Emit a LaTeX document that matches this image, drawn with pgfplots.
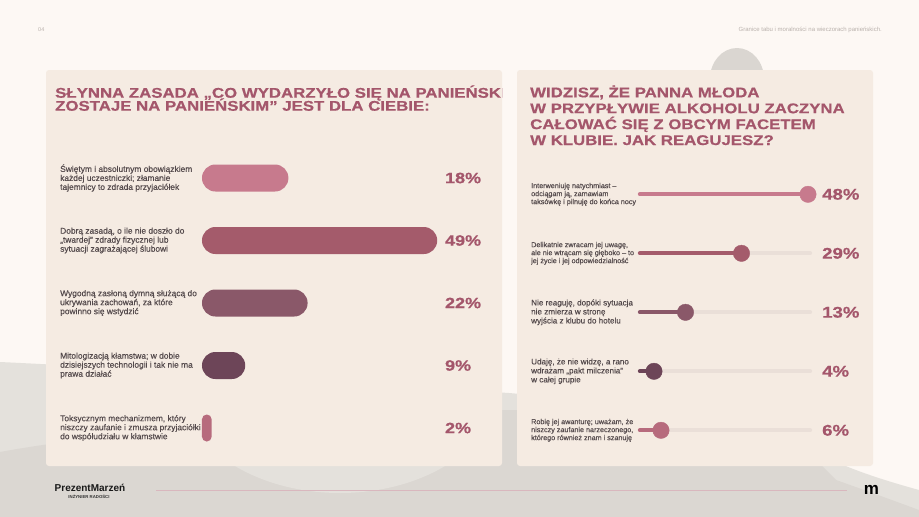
\documentclass[border=0pt]{standalone}
\usepackage{pgfplots}
\pgfplotsset{compat=1.18}
\usepackage{fontspec}
\setmainfont{Liberation Sans}
\newfontfamily\titlefont[FakeStretch=1.2, BoldFeatures={FakeBold=0.6}]{Liberation Sans}
\newfontfamily\labelfont[BoldFont={Liberation Sans}, BoldFeatures={FakeBold=0.35}]{Liberation Sans}
\definecolor{bg}{HTML}{FDF8F4}
\definecolor{panel}{HTML}{F5EBE2}
\definecolor{grayL}{HTML}{E4E1DC}
\definecolor{grayD}{HTML}{DBD7D2}
\definecolor{grayC}{HTML}{DAD6D1}
\definecolor{titlec}{HTML}{A4566B}
\definecolor{labelc}{HTML}{544A4C}
\definecolor{cA}{HTML}{C77A8D}
\definecolor{cB}{HTML}{A45B6B}
\definecolor{cC}{HTML}{8A5869}
\definecolor{cD}{HTML}{6D4558}
\definecolor{cE}{HTML}{B76B7D}
\definecolor{track}{HTML}{EADFD8}
\definecolor{pinkline}{HTML}{D9B7BE}
\definecolor{hdr}{HTML}{B9B1AC}
\begin{document}
\begin{tikzpicture}
\begin{scope}[x=1pt,y=-1pt]
\fill[bg] (0,0) rectangle (919,517);
\fill[grayL] (0,362) .. controls (170,370) and (380,385) .. (509,393) .. controls (650,405) and (790,430) .. (822,455) .. controls (850,470) and (890,482) .. (919,490) -- (919,517) -- (0,517) -- cycle;
\fill[grayD] (0,452) .. controls (120,430) and (350,412) .. (509,410) .. controls (650,410) and (790,440) .. (822,466) -- (836,480) .. controls (870,492) and (900,503) .. (919,510) -- (919,517) -- (0,517) -- cycle;
\fill[grayL] (340,383) ellipse [x radius=160pt, y radius=110pt];
\fill[grayC] (737,79) ellipse [x radius=27pt, y radius=31pt];
\fill[panel, rounded corners=3pt] (46,70) rectangle (502,466);
\fill[panel, rounded corners=3pt] (517,70) rectangle (873,466);
% header
\node[anchor=west, inner sep=0, text=hdr, font=\fontsize{5.5}{6}\selectfont] at (38,30) {04};
\node[anchor=east, inner sep=0, text=hdr, font=\fontsize{6}{6}\selectfont] at (882,30) {Granice tabu i moralności na wieczorach panieńskich.};
% titles
\begin{scope}
\clip (46,70) rectangle (502,466);
\node[anchor=base west, inner sep=0, text=titlec, font=\titlefont\bfseries\fontsize{14}{14}\selectfont] at (55,97.7) {SŁYNNA ZASADA „CO WYDARZYŁO SIĘ NA PANIEŃSKIM};
\node[anchor=base west, inner sep=0, text=titlec, font=\titlefont\bfseries\fontsize{14}{14}\selectfont] at (55,110.7) {ZOSTAJE NA PANIEŃSKIM” JEST DLA CIEBIE:};
\end{scope}
\node[anchor=base west, inner sep=0, text=titlec, font=\titlefont\bfseries\fontsize{14}{14}\selectfont] at (530,97.3) {WIDZISZ, ŻE PANNA MŁODA};
\node[anchor=base west, inner sep=0, text=titlec, font=\titlefont\bfseries\fontsize{14}{14}\selectfont] at (530,113.2) {W PRZYPŁYWIE ALKOHOLU ZACZYNA};
\node[anchor=base west, inner sep=0, text=titlec, font=\titlefont\bfseries\fontsize{14}{14}\selectfont] at (530,129.1) {CAŁOWAĆ SIĘ Z OBCYM FACETEM};
\node[anchor=base west, inner sep=0, text=titlec, font=\titlefont\bfseries\fontsize{14}{14}\selectfont] at (530,145.0) {W KLUBIE. JAK REAGUJESZ?};
% footer
\draw[pinkline, line width=1.3pt] (156,490.5) -- (847,490.5);
\node[anchor=west, inner sep=0, text=black!90, font=\bfseries\fontsize{10}{10}\selectfont] at (54.5,487.5) {PrezentMarzeń};
\node[inner sep=0, text=black!80, font=\bfseries\fontsize{4.3}{5}\selectfont] at (89,496.5) {INŻYNIER RADOŚCI};
\node[inner sep=0, text=black, font=\bfseries\fontsize{17}{17}\selectfont] at (871.5,490) {m};
\end{scope}

% ---------- left chart ----------
\begin{axis}[at={(202pt,-146.75pt)}, anchor=north west, scale only axis,
  width=240pt, height=312.5pt, xmin=0, xmax=50, ymin=-0.5, ymax=4.5,
  y dir=reverse, clip=false, axis line style={draw=none},
  xtick=\empty, ytick={0,1,2,3,4}, major tick length=0pt,
  yticklabels={{Świętym i absolutnym obowiązkiem\\każdej uczestniczki; złamanie\\tajemnicy to zdrada przyjaciółek},
    {Dobrą zasadą, o ile nie doszło do\\„twardej” zdrady fizycznej lub\\sytuacji zagrażającej ślubowi},
    {Wygodną zasłoną dymną służącą do\\ukrywania zachowań, za które\\powinno się wstydzić},
    {Mitologizacją kłamstwa; w dobie\\dzisiejszych technologii i tak nie ma\\prawa działać},
    {Toksycznym mechanizmem, który\\niszczy zaufanie i zmusza przyjaciółki\\do współudziału w kłamstwie}},
  yticklabel style={anchor=west, align=left, inner sep=0pt, xshift=-142pt, text=labelc,
    font=\labelfont\bfseries\fontsize{8.4}{9}\selectfont}]
\addplot[xbar, bar width=27pt, bar shift=0pt, fill=cA, draw=none, rounded corners=13.4pt] coordinates {(18,0)};
\addplot[xbar, bar width=27pt, bar shift=0pt, fill=cB, draw=none, rounded corners=13.4pt] coordinates {(49,1)};
\addplot[xbar, bar width=27pt, bar shift=0pt, fill=cC, draw=none, rounded corners=13.4pt] coordinates {(22,2)};
\addplot[xbar, bar width=27pt, bar shift=0pt, fill=cD, draw=none, rounded corners=13.4pt] coordinates {(9,3)};
\addplot[xbar, bar width=27pt, bar shift=0pt, fill=cE, draw=none, rounded corners=4.7pt] coordinates {(2,4)};
\node[anchor=west, inner sep=0, text=titlec, font=\titlefont\bfseries\fontsize{15}{15}\selectfont] at (axis cs:50.6,0) {18\%};
\node[anchor=west, inner sep=0, text=titlec, font=\titlefont\bfseries\fontsize{15}{15}\selectfont] at (axis cs:50.6,1) {49\%};
\node[anchor=west, inner sep=0, text=titlec, font=\titlefont\bfseries\fontsize{15}{15}\selectfont] at (axis cs:50.6,2) {22\%};
\node[anchor=west, inner sep=0, text=titlec, font=\titlefont\bfseries\fontsize{15}{15}\selectfont] at (axis cs:50.6,3) {9\%};
\node[anchor=west, inner sep=0, text=titlec, font=\titlefont\bfseries\fontsize{15}{15}\selectfont] at (axis cs:50.6,4) {2\%};
\end{axis}

% ---------- right chart ----------
\begin{axis}[at={(640pt,-164.8pt)}, anchor=north west, scale only axis,
  width=170pt, height=295pt, xmin=0, xmax=48.57, ymin=-0.5, ymax=4.5,
  y dir=reverse, clip=false, axis line style={draw=none},
  xtick=\empty, ytick={0,1,4}, major tick length=0pt,
  yticklabels={{Interweniuję natychmiast –\\odciągam ją, zamawiam\\taksówkę i pilnuję do końca nocy},
    {Delikatnie zwracam jej uwagę,\\ale nie wtrącam się głęboko – to\\jej życie i jej odpowiedzialność},
    {Robię jej awanturę; uważam, że\\niszczy zaufanie narzeczonego,\\którego również znam i szanuję}},
  yticklabel style={anchor=west, align=left, inner sep=0pt, xshift=-109pt, text=labelc,
    font=\labelfont\bfseries\fontsize{7.2}{8}\selectfont},
  extra y ticks={2,3},
  extra y tick labels={{Nie reaguję, dopóki sytuacja\\nie zmierza w stronę\\wyjścia z klubu do hotelu},
    {Udaję, że nie widzę, a rano\\wdrażam „pakt milczenia”\\w całej grupie}},
  extra y tick style={major tick length=0pt, yticklabel style={font=\labelfont\bfseries\fontsize{8.1}{9}\selectfont}}]
\pgfplotsinvokeforeach{0,1,2,3,4}{
  \draw[track, line width=4.3pt, line cap=round] (axis cs:0,#1) -- (axis cs:48.57,#1);
}
\addplot[cA, line width=4.3pt, line cap=round] coordinates {(0,0) (48,0)};
\addplot[cB, line width=4.3pt, line cap=round] coordinates {(0,1) (29,1)};
\addplot[cC, line width=4.3pt, line cap=round] coordinates {(0,2) (13,2)};
\addplot[cD, line width=4.3pt, line cap=round] coordinates {(0,3) (4,3)};
\addplot[cE, line width=4.3pt, line cap=round] coordinates {(0,4) (6,4)};
\addplot[cA, only marks, mark=*, mark size=8.2pt, mark options={draw=cA, fill=cA, line width=0.4pt}] coordinates {(48,0)};
\addplot[cB, only marks, mark=*, mark size=8.2pt, mark options={draw=cB, fill=cB, line width=0.4pt}] coordinates {(29,1)};
\addplot[cC, only marks, mark=*, mark size=8.2pt, mark options={draw=cC, fill=cC, line width=0.4pt}] coordinates {(13,2)};
\addplot[cD, only marks, mark=*, mark size=8.2pt, mark options={draw=cD, fill=cD, line width=0.4pt}] coordinates {(4,3)};
\addplot[cE, only marks, mark=*, mark size=8.2pt, mark options={draw=cE, fill=cE, line width=0.4pt}] coordinates {(6,4)};
\node[anchor=west, inner sep=0, text=titlec, font=\titlefont\bfseries\fontsize{15.5}{15.5}\selectfont] at (axis cs:52,0) {48\%};
\node[anchor=west, inner sep=0, text=titlec, font=\titlefont\bfseries\fontsize{15.5}{15.5}\selectfont] at (axis cs:52,1) {29\%};
\node[anchor=west, inner sep=0, text=titlec, font=\titlefont\bfseries\fontsize{15.5}{15.5}\selectfont] at (axis cs:52,2) {13\%};
\node[anchor=west, inner sep=0, text=titlec, font=\titlefont\bfseries\fontsize{15.5}{15.5}\selectfont] at (axis cs:52,3) {4\%};
\node[anchor=west, inner sep=0, text=titlec, font=\titlefont\bfseries\fontsize{15.5}{15.5}\selectfont] at (axis cs:52,4) {6\%};
\end{axis}
\pgfresetboundingbox
\path (0pt,0pt) rectangle (919pt,-517pt);
\end{tikzpicture}
\end{document}
